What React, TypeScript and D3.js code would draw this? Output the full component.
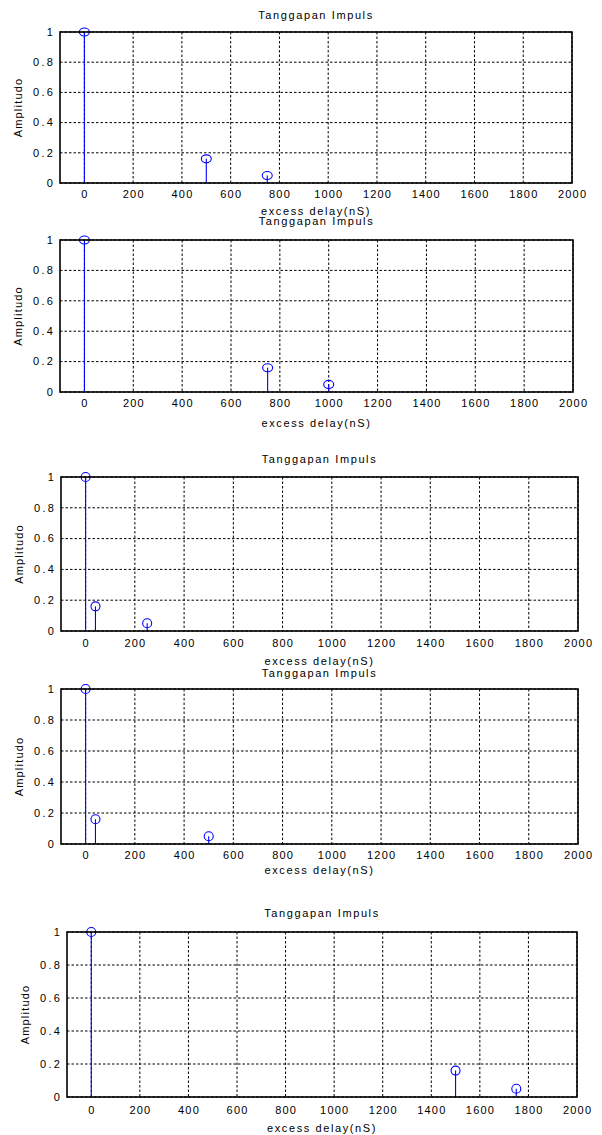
import React from 'react';
import * as d3 from 'd3';

// excess delay (nS) of each path, one array per sub plot
const delays1 = [0, 500, 750];
const delays2 = [0, 750, 1000];
const delays3 = [0, 40, 250];
const delays4 = [0, 40, 500];
const delays5 = [0, 1500, 1750];

// amplitudo of each path (same profile in every plot)
const amplitudes1 = [1, 0.16, 0.05];
const amplitudes2 = [1, 0.16, 0.05];
const amplitudes3 = [1, 0.16, 0.05];
const amplitudes4 = [1, 0.16, 0.05];
const amplitudes5 = [1, 0.16, 0.05];

const xTicks = [0, 200, 400, 600, 800, 1000, 1200, 1400, 1600, 1800, 2000];
const yTicks = [0, 0.2, 0.4, 0.6, 0.8, 1];
const yTickLabels = ['0', '0.2', '0.4', '0.6', '0.8', '1'];
const xDomain = [-100, 2000];
const yDomain = [0, 1];

const titleText = 'Tanggapan Impuls';
const xLabelText = 'excess delay(nS)';
const yLabelText = 'Amplitudo';

// posisi tiap subplot di halaman
const panels = [
    { delays: delays1, amps: amplitudes1, top: 32, bottom: 183, left: 60, right: 572, titleY: 15, tickY: 194, xlabelY: 211, rx: 5, ry: 4 },
    { delays: delays2, amps: amplitudes2, top: 240, bottom: 392, left: 60, right: 573, titleY: 221, tickY: 403, xlabelY: 423, rx: 5, ry: 4 },
    { delays: delays3, amps: amplitudes3, top: 477, bottom: 631, left: 61, right: 578, titleY: 459, tickY: 643, xlabelY: 661, rx: 4.5, ry: 4.5 },
    { delays: delays4, amps: amplitudes4, top: 689, bottom: 844, left: 61, right: 578, titleY: 673, tickY: 855, xlabelY: 870, rx: 4.5, ry: 4.5 },
    { delays: delays5, amps: amplitudes5, top: 932, bottom: 1097, left: 67, right: 577, titleY: 913, tickY: 1110, xlabelY: 1128, rx: 4.5, ry: 4.5 },
];

const font = '"Liberation Sans", Arial, sans-serif';
const stemColor = '#0000ff';

const StemPlot = ({ p }) => {
    const x = d3.scaleLinear().domain(xDomain).range([p.left, p.right]);
    const y = d3.scaleLinear().domain(yDomain).range([p.bottom, p.top]);
    const cx = (p.left + p.right) / 2;
    const cy = (p.top + p.bottom) / 2;

    return (
        <g>
            {/* grid */}
            {xTicks.map(t => (
                <line key={'gx' + t} x1={x(t)} x2={x(t)} y1={p.top} y2={p.bottom}
                    stroke="#000" strokeWidth={1} strokeDasharray="2.5,2" />
            ))}
            {yTicks.map(t => (
                <line key={'gy' + t} x1={p.left} x2={p.right} y1={y(t)} y2={y(t)}
                    stroke="#000" strokeWidth={1} strokeDasharray="2.5,2" />
            ))}

            {/* stems */}
            {p.delays.map((d, i) => (
                <g key={'s' + i}>
                    <line x1={x(d)} x2={x(d)} y1={y(0)} y2={y(p.amps[i])} stroke={stemColor} strokeWidth={1.1} />
                    <ellipse cx={x(d)} cy={y(p.amps[i])} rx={p.rx} ry={p.ry} fill="none" stroke={stemColor} strokeWidth={1.1} />
                </g>
            ))}

            {/* kotak sumbu */}
            <rect x={p.left} y={p.top} width={p.right - p.left} height={p.bottom - p.top}
                fill="none" stroke="#000" strokeWidth={1.6} />

            {/* tick label */}
            {xTicks.map(t => (
                <text key={'tx' + t} x={x(t) + 0.6} y={p.tickY} dy="0.35em" textAnchor="middle"
                    fontSize={11} letterSpacing={1.2} fill="#000">{t}</text>
            ))}
            {yTicks.map((t, i) => (
                <text key={'ty' + t} x={p.left - 5} y={y(t)} dy="0.35em" textAnchor="end"
                    fontSize={11} letterSpacing={2.2} fill="#000">{yTickLabels[i]}</text>
            ))}

            <text x={cx} y={p.titleY} dy="0.35em" textAnchor="middle" fontSize={11} letterSpacing={1.6} fill="#000">{titleText}</text>
            <text x={cx} y={p.xlabelY} dy="0.35em" textAnchor="middle" fontSize={11} letterSpacing={1.6} fill="#000">{xLabelText}</text>
            <text transform={`translate(${p.left - 42},${cy}) rotate(-90)`} dy="0.35em" textAnchor="middle"
                fontSize={11} letterSpacing={1.2} fill="#000">{yLabelText}</text>
        </g>
    );
};

const App = () => {
    return (
        <svg width={602} height={1135} style={{ position: 'absolute', left: 0, top: 0, background: '#fff' }}
            fontFamily={font}>
            {panels.map((p, i) => <StemPlot key={i} p={p} />)}
        </svg>
    );
};

export default App;
